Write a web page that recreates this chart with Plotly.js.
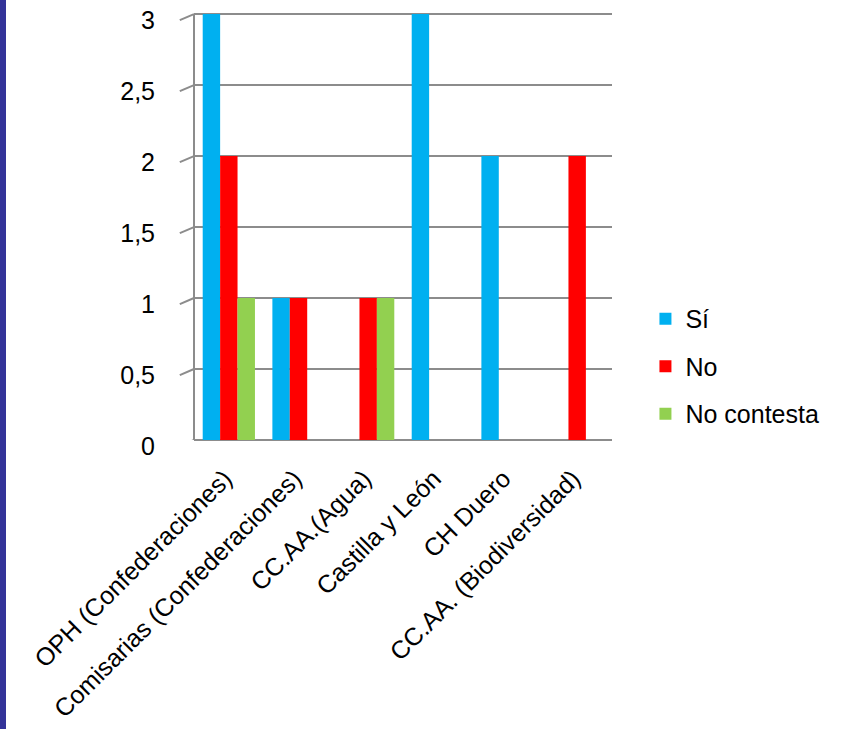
<!DOCTYPE html>
<html>
<head>
<meta charset="utf-8">
<script src="https://cdn.plot.ly/plotly-3.0.1.min.js"></script>
<style>
  html, body { margin: 0; padding: 0; background: #ffffff; }
  #chart { width: 841px; height: 729px; }
  #strip { position: absolute; left: 0; top: 0; width: 6px; height: 729px; background: #333399; }
</style>
</head>
<body>
<div id="chart"></div>
<div id="strip"></div>
<script>
const categories = [
  "OPH (Confederaciones)",
  "Comisarias (Confederaciones)",
  "CC.AA.(Agua)",
  "Castilla y León",
  "CH Duero",
  "CC.AA. (Biodiversidad)"
];
const seriesNames = ["Sí", "No", "No contesta"];
const valuesSi = [3, 1, 0, 3, 2, 0];
const valuesNo = [2, 1, 1, 0, 0, 2];
const valuesNoContesta = [1, 0, 1, 0, 0, 0];
const tickValues = [0, 0.5, 1, 1.5, 2, 2.5, 3];
const tickLabels = ["0", "0,5", "1", "1,5", "2", "2,5", "3"];
const colors = ["#00B0F0", "#FF0000", "#92D050"];

const allValues = [valuesSi, valuesNo, valuesNoContesta];
const FONT = "'Liberation Sans', Arial, sans-serif";
const GRID = "#8c8c8c";
const yMax = tickValues[tickValues.length - 1];

const traces = allValues.map((vals, i) => ({
  type: "bar",
  name: seriesNames[i],
  x: categories,
  y: vals,
  legendgroup: "g" + i,
  marker: { color: colors[i], line: { width: 0 } },
  hoverinfo: "x+y+name"
}));

// 3D-style decoration: side wall edge, short diagonal stubs and the floor front edge
const depthX = -0.034;   // paper units to the left (front edge)
const depthY = 0.043;    // data units downward (front edge)
const shapes = tickValues.map(v => ({
  type: "line", xref: "paper", yref: "y",
  x0: depthX, y0: v - depthY, x1: 0, y1: v,
  line: { color: GRID, width: 2 }
}));
shapes.push({
  type: "line", xref: "paper", yref: "y",
  x0: 0, y0: 0, x1: 0, y1: yMax,
  line: { color: GRID, width: 2 }
});
shapes.push({
  type: "line", xref: "paper", yref: "y",
  x0: depthX, y0: -depthY, x1: 1 + depthX * 0.6, y1: -depthY,
  line: { color: GRID, width: 2 }
});
shapes.push({
  type: "line", xref: "paper", yref: "y",
  x0: 1 + depthX * 0.6, y0: -depthY, x1: 1, y1: 0,
  line: { color: GRID, width: 2 }
});

const layout = {
  width: 841,
  height: 729,
  margin: { l: 194, r: 229, t: 7, b: 289 },
  paper_bgcolor: "#ffffff",
  plot_bgcolor: "#ffffff",
  barmode: "group",
  bargap: 0.25,
  bargroupgap: 0,
  font: { family: FONT, size: 25, color: "#000000" },
  showlegend: true,
  shapes: shapes,
  legend: {
    x: 1.08, xanchor: "left", xref: "paper",
    y: 0.17, yanchor: "middle",
    font: { family: FONT, size: 25, color: "#000000" },
    tracegroupgap: 12,
    itemwidth: 30,
    bgcolor: "rgba(0,0,0,0)"
  },
  xaxis: {
    type: "category",
    tickangle: -45,
    tickfont: { family: FONT, size: 25, color: "#000000" },
    showgrid: false,
    showline: false,
    ticks: "",
    ticklabelstandoff: 18,
    ticklabelshift: -4,
    fixedrange: true
  },
  yaxis: {
    range: [0, 3.05],
    tickvals: tickValues,
    ticktext: tickLabels,
    tickfont: { family: FONT, size: 25, color: "#000000" },
    showgrid: true,
    gridcolor: GRID,
    gridwidth: 2,
    zeroline: true,
    zerolinecolor: GRID,
    zerolinewidth: 2,
    showline: false,
    ticks: "outside",
    ticklen: 5,
    tickcolor: "rgba(0,0,0,0)",
    ticklabelstandoff: 28,
    ticklabelshift: 6,
    fixedrange: true
  }
};

Plotly.newPlot("chart", traces, layout, { displayModeBar: false, staticPlot: true });
</script>
</body>
</html>
